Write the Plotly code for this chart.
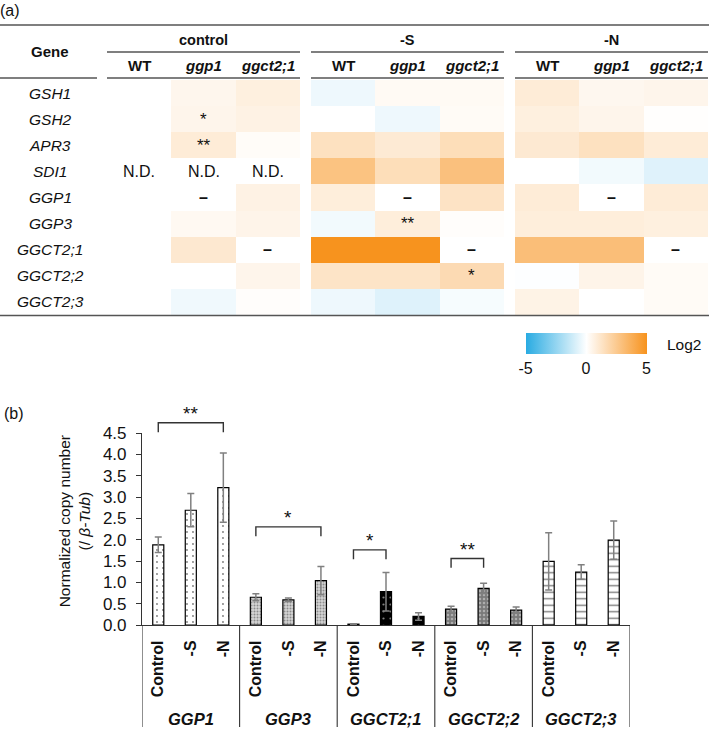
import plotly.graph_objects as go

# ---------------- (a) heat map data ----------------
heat_genes = ['GSH1', 'GSH2', 'APR3', 'SDI1', 'GGP1', 'GGP3', 'GGCT2;1', 'GGCT2;2', 'GGCT2;3']
conditions_a = ['control', '-S', '-N']
lines_a = ['WT', 'ggp1', 'ggct2;1']
N = None
log2_control = [
    [0, 0.40, 0.70],
    [0, 0.45, 0.60],
    [0, 0.90, 0.15],
    [N, N, N],
    [0, N, 0.60],
    [0, 0.30, 0.50],
    [0, 1.05, N],
    [0, 0.00, 0.45],
    [0, -0.35, 0.10],
]
log2_minusS = [
    [-0.40, 0.25, 0.25],
    [0.00, -0.40, 0.20],
    [1.40, 0.95, 1.55],
    [2.80, 1.55, 2.90],
    [0.80, N, 1.30],
    [-0.30, 0.80, 0.10],
    [5.00, 5.00, N],
    [1.25, 1.25, 1.70],
    [-0.40, -0.77, -0.20],
]
log2_minusN = [
    [0.90, 0.35, 0.45],
    [0.70, 0.45, 0.05],
    [1.00, 1.40, 0.90],
    [0.00, -0.30, -0.75],
    [0.90, N, 0.90],
    [0.80, 0.80, 0.70],
    [3.00, 3.00, N],
    [-0.05, 0.50, 0.20],
    [0.55, 0.00, 0.20],
]
marks_control = [
    ['', '', ''], ['', '*', ''], ['', '**', ''], ['N.D.', 'N.D.', 'N.D.'],
    ['', '–', ''], ['', '', ''], ['', '', '–'], ['', '', ''], ['', '', ''],
]
marks_minusS = [
    ['', '', ''], ['', '', ''], ['', '', ''], ['', '', ''],
    ['', '–', ''], ['', '**', ''], ['', '', '–'], ['', '', '*'], ['', '', ''],
]
marks_minusN = [
    ['', '', ''], ['', '', ''], ['', '', ''], ['', '', ''],
    ['', '–', ''], ['', '', ''], ['', '', '–'], ['', '', ''], ['', '', ''],
]
heat_values = [log2_control, log2_minusS, log2_minusN]
heat_marks = [marks_control, marks_minusS, marks_minusN]
scale_ticks = [-5, 0, 5]
scale_ticktext = ['-5', '0', '5']

# ---------------- (b) bar chart data ----------------
bar_genes = ['GGP1', 'GGP3', 'GGCT2;1', 'GGCT2;2', 'GGCT2;3']
conditions_b = ['Control', '-S', '-N']
copy_mean = {
    'GGP1': [1.88, 2.69, 3.22],
    'GGP3': [0.65, 0.59, 1.04],
    'GGCT2;1': [0.02, 0.78, 0.20],
    'GGCT2;2': [0.37, 0.86, 0.35],
    'GGCT2;3': [1.49, 1.24, 1.99],
}
copy_err = {
    'GGP1': [0.18, 0.39, 0.81],
    'GGP3': [0.08, 0.04, 0.33],
    'GGCT2;1': [0.01, 0.45, 0.09],
    'GGCT2;2': [0.07, 0.12, 0.07],
    'GGCT2;3': [0.67, 0.17, 0.45],
}
# significance: gene, condition a, condition b, label
sig_gene = ['GGP1', 'GGP3', 'GGCT2;1', 'GGCT2;2']
sig_from = ['Control', 'Control', 'Control', 'Control']
sig_to = ['-N', '-N', '-S', '-S']
sig_label = ['**', '*', '*', '**']
bracket_level = [4.74, 2.30, 1.76, 1.56]

# ---------------- styling / layout ----------------
W, H = 709, 732
FONT = 'Liberation Sans, Arial, sans-serif'
def fx(p):
    return p / W
def fy(p):
    return 1 - p / H

YMAX = 4.5
group_x0 = [107, 311, 515]
group_w = 193
heat_top, heat_bot = 80, 315
bar_left, bar_right, bar_top, bar_bot = 142, 630, 433, 625

patterns = {
    'GGP1': dict(bg='white', fg='black', shape='.', size=6, solidity=0.08),
    'GGP3': dict(bg='#d4d4d4', fg='#444444', shape='.', size=3, solidity=0.35),
    'GGCT2;1': dict(bg='black', fg='white', shape='.', size=7, solidity=0.08),
    'GGCT2;2': dict(bg='#7a7a7a', fg='#e0e0e0', shape='.', size=4, solidity=0.3),
    'GGCT2;3': dict(bg='white', fg='black', shape='-', size=6.5, solidity=0.22),
}

fig = go.Figure()
annotations = []
shapes = []


def ann(text, x, y, xref='paper', yref='paper', size=15, **kw):
    d = dict(text=text, x=x, y=y, xref=xref, yref=yref, showarrow=False,
             xanchor='center', yanchor='middle', font=dict(size=size, color='#111'))
    d.update(kw)
    annotations.append(d)


# heat maps
xaxis_names = ['x', 'x2', 'x3']
for k in range(3):
    fig.add_trace(go.Heatmap(
        z=heat_values[k], x=lines_a, y=heat_genes,
        coloraxis='coloraxis', xaxis=xaxis_names[k], yaxis='y',
        hoverongaps=False,
    ))
    ax_key = 'xaxis' if k == 0 else 'xaxis%d' % (k + 1)
    fig.layout[ax_key] = dict(domain=[fx(group_x0[k]), fx(group_x0[k] + group_w)],
                              visible=False, anchor='y', type='category')
    ann('<b>%s</b>' % conditions_a[k], fx(group_x0[k] + group_w / 2), fy(40), size=14.5)
    for j, ln in enumerate(lines_a):
        txt = '<b>%s</b>' % ln if ln == 'WT' else '<b><i>%s</i></b>' % ln
        ann(txt, ln, fy(65), xref=xaxis_names[k], size=15)
    for i, g in enumerate(heat_genes):
        for j, ln in enumerate(lines_a):
            m = heat_marks[k][i][j]
            if m:
                if m == '–':
                    txt, sz = '<b>–</b>', 16
                elif m == 'N.D.':
                    txt, sz = m, 16
                else:
                    txt, sz = m, 17
                ann(txt, ln, g, xref=xaxis_names[k], yref='y', size=sz)
    for yy in (52, 78):
        shapes.append(dict(type='line', xref='paper', yref='paper', x0=fx(group_x0[k]),
                           x1=fx(group_x0[k] + group_w), y0=fy(yy), y1=fy(yy),
                           line=dict(color='#555', width=1.3)))

fig.layout.yaxis = dict(domain=[fy(heat_bot), fy(heat_top)], visible=False,
                        type='category', autorange='reversed')
shapes.append(dict(type='line', xref='paper', yref='paper', x0=0, x1=fx(97), y0=fy(78), y1=fy(78),
                   line=dict(color='#555', width=1.3)))
shapes.append(dict(type='line', xref='paper', yref='paper', x0=0, x1=1, y0=fy(25), y1=fy(25),
                   line=dict(color='#555', width=1.5)))
shapes.append(dict(type='line', xref='paper', yref='paper', x0=0, x1=1, y0=fy(315.5), y1=fy(315.5),
                   line=dict(color='#555', width=1.5)))

ann('<b>Gene</b>', fx(50), fy(52), size=15)
for g in heat_genes:
    ann('<i>%s</i>' % g, fx(50), g, yref='y', size=15.5)
ann('(a)', fx(10), fy(10), size=16)

fig.layout.coloraxis = dict(
    colorscale=[[0, '#29ABE2'], [0.5, '#FFFFFF'], [1, '#F7931E']], cmin=-5, cmax=5,
    colorbar=dict(orientation='h', thickness=21, thicknessmode='pixels', len=121,
                  lenmode='pixels', x=fx(586), xanchor='center', y=fy(333), yanchor='top',
                  outlinewidth=0, tickvals=scale_ticks, ticktext=scale_ticktext, ticks='',
                  tickfont=dict(size=16, color='#111'), ypad=0, xpad=0),
)
ann('Log2', fx(665), fy(344), size=15.5, xanchor='left')

# bar chart
nc = len(conditions_b)
for gi, g in enumerate(bar_genes):
    p = patterns[g]
    xs = [gi * nc + ci for ci in range(nc)]
    fig.add_trace(go.Bar(
        x=xs, y=copy_mean[g], width=0.34, xaxis='x4', yaxis='y2',
        error_y=dict(type='data', array=copy_err[g], color='#808080', thickness=1.5, width=3.5),
        marker=dict(color=p['bg'], line=dict(color='black', width=1.2),
                    pattern=dict(shape=p['shape'], fgcolor=p['fg'], bgcolor=p['bg'],
                                 size=p['size'], solidity=p['solidity'])),
        showlegend=False,
    ))
    ann('<b><i>%s</i></b>' % g, gi * nc + (nc - 1) / 2, fy(719), xref='x4', size=16.5)

for b in range(len(bar_genes) + 1):
    shapes.append(dict(type='line', xref='x4', yref='paper', x0=b * nc - 0.5, x1=b * nc - 0.5,
                       y0=fy(bar_bot), y1=fy(727), line=dict(color='#333', width=1.1)))

for s in range(len(sig_gene)):
    gi = bar_genes.index(sig_gene[s])
    xa = gi * nc + conditions_b.index(sig_from[s])
    xb = gi * nc + conditions_b.index(sig_to[s])
    top = bracket_level[s] / YMAX
    leg = (bracket_level[s] - 0.22) / YMAX
    shapes.append(dict(type='path', xref='x4', yref='y2 domain',
                       path='M %g,%g L %g,%g L %g,%g L %g,%g' % (xa, leg, xa, top, xb, top, xb, leg),
                       line=dict(color='#333', width=1.4)))
    ann(sig_label[s], (xa + xb) / 2, (bracket_level[s] + 0.22) / YMAX, xref='x4', yref='y2 domain',
        size=19)

fig.layout.xaxis4 = dict(domain=[fx(bar_left), fx(bar_right)], anchor='y2', range=[-0.5, nc * len(bar_genes) - 0.5],
                         showline=True, linecolor='#333', linewidth=1.1, ticks='',
                         tickvals=list(range(nc * len(bar_genes))),
                         ticktext=['<b>%s</b>' % c for c in conditions_b] * len(bar_genes),
                         tickangle=-90, tickfont=dict(size=16, color='#111'),
                         ticklabelstandoff=8, showgrid=False, zeroline=False, automargin=False)
fig.layout.yaxis2 = dict(domain=[fy(bar_bot), fy(bar_top)], anchor='x4', range=[0, YMAX], dtick=0.5,
                         tickformat='.1f', showline=True, linecolor='#333', linewidth=1.1,
                         ticks='outside', ticklen=5, tickcolor='#333', showgrid=False, zeroline=False,
                         tickfont=dict(size=17, color='#111'), ticklabelstandoff=6, automargin=False)

ann('Normalized copy number<br>(/ <i>β-Tub</i>)', fx(74), 0.54, yref='y2 domain', size=15.5,
    textangle=-90)
ann('(b)', fx(14), fy(413), size=16)

fig.update_layout(
    width=W, height=H, margin=dict(l=0, r=0, t=0, b=0, pad=0, autoexpand=False),
    paper_bgcolor='white', plot_bgcolor='white',
    font=dict(family=FONT, color='#111'),
    barmode='overlay', showlegend=False,
    annotations=annotations, shapes=shapes,
)

fig.write_html('out.html', config={'displayModeBar': False},
               post_script="document.body.style.margin='0px';")
